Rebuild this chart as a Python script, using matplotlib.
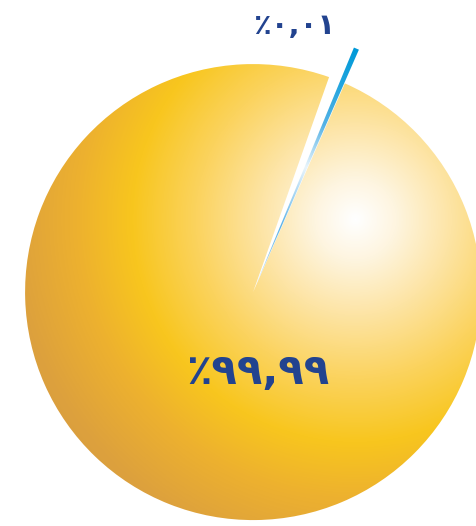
import numpy as np
import matplotlib.pyplot as plt
from matplotlib.colors import LinearSegmentedColormap

# data
labels = ['٪۹۹,۹۹', '٪۰,۰۱']
values = [99.99, 0.01]

# slice so small it would vanish -> give it a visible minimum share
min_share = 1.2
shown = [max(v, min_share) for v in values]

fig = plt.figure(figsize=(4.77, 5.26), dpi=100)
ax = fig.add_axes([0, 0, 1, 1])

mid = 68.4  # direction of the small slice
w = 360 * shown[1] / sum(shown)
wedges, _ = ax.pie(shown, startangle=mid + w / 2, explode=[0, 0.03],
                   radius=1, wedgeprops=dict(linewidth=0))

ax.set_xlim(-1.11, 0.982)
ax.set_ylim(-1.026, 1.281)
ax.set_aspect('equal')
ax.axis('off')

# big slice: radial "sphere" gradient
sun = LinearSegmentedColormap.from_list('sun', [
    (0.00, '#FFFFFF'),
    (0.10, '#FEF5E0'),
    (0.24, '#FDE4A4'),
    (0.40, '#FBD35E'),
    (0.56, '#F8C61E'),
    (0.70, '#EDB12F'),
    (0.86, '#DDA13D'),
    (1.00, '#D49A42'),
])
xx, yy = np.meshgrid(np.linspace(-1.11, 0.982, 500), np.linspace(-1.026, 1.281, 550))
d = np.hypot(xx - 0.45, yy - 0.32) / 1.75
im = ax.imshow(d, cmap=sun, vmin=0, vmax=1, origin='lower',
               extent=(-1.11, 0.982, -1.026, 1.281), zorder=1)
wedges[0].set_facecolor('none')
im.set_clip_path(wedges[0])

# small slice: thin blue sliver on the clockwise side of the gap, sticking out
small = wedges[1]
t0 = mid - w / 2
small.set_theta1(t0 + 0.1)
small.set_theta2(t0 + 1.3)
small.set_radius(1.13)
small.set_facecolor('none')
sky = LinearSegmentedColormap.from_list('sky', [
    (0.00, '#BFE0F5'),
    (0.25, '#5BB2E8'),
    (0.50, '#EAF5FC'),
    (0.68, '#55B2E5'),
    (0.88, '#1AA3DD'),
    (1.00, '#0099D8'),
])
cx, cy = small.center
r = np.hypot(xx - cx, yy - cy) / 1.13
im2 = ax.imshow(r, cmap=sky, vmin=0, vmax=1, origin='lower',
                extent=(-1.11, 0.982, -1.026, 1.281), zorder=2)
im2.set_clip_path(small)

blue = '#22438F'
ax.text(0.02, -0.35, labels[0], fontsize=30, fontweight='bold', color=blue,
        ha='center', va='center', family='DejaVu Sans', zorder=3)
ax.text(0.18, 1.165, labels[1], fontsize=21, fontweight='bold', color=blue,
        ha='center', va='center', family='DejaVu Sans', zorder=3)

fig.savefig('out.png', dpi=100)
